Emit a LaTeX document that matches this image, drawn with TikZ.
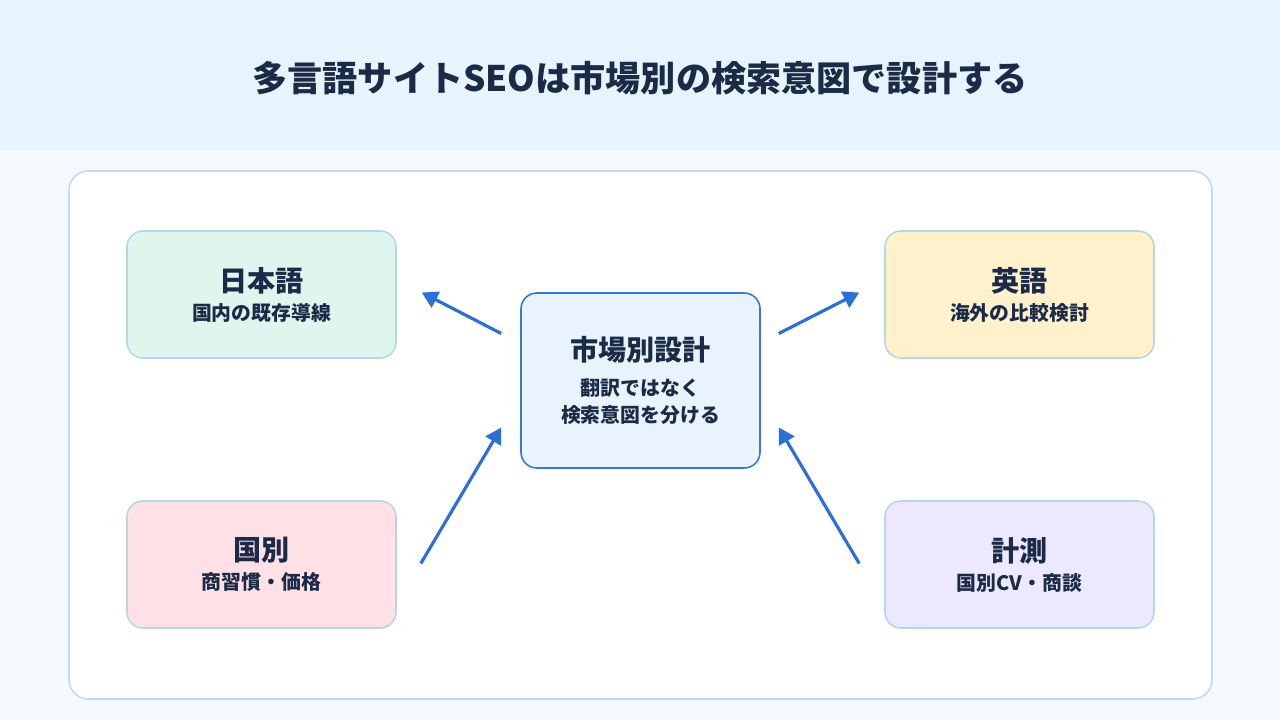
\documentclass[tikz,border=0pt]{standalone}
\usepackage{fontspec}
\setmainfont{Noto Sans CJK JP}
\usepackage{tikz}
\usetikzlibrary{arrows.meta, positioning, calc}

\definecolor{navy}{HTML}{1B2A47}
\definecolor{hdrbg}{HTML}{E8F4FD}
\definecolor{pagebg}{HTML}{F4F9FD}
\definecolor{panelline}{HTML}{BFDCEC}
\definecolor{boxline}{HTML}{B6D6EC}
\definecolor{arrowblue}{HTML}{2C6FD9}
\definecolor{hubline}{HTML}{3479D6}
\definecolor{hubfill}{HTML}{E9F3FD}
\definecolor{mintfill}{HTML}{DFF6EE}
\definecolor{creamfill}{HTML}{FFF1CC}
\definecolor{rosefill}{HTML}{FFE0E4}
\definecolor{lilacfill}{HTML}{ECE8FD}

\begin{document}
\begin{tikzpicture}[
    x=0.02cm, y=-0.02cm,
    font=\bfseries, text=navy,
    marketst/.style={draw=boxline, line width=0.9pt, rounded corners=9pt,
                     minimum width=269*0.02cm, minimum height=127*0.02cm,
                     align=center, inner sep=2pt},
    hubst/.style={draw=hubline, fill=hubfill, line width=0.9pt, rounded corners=9pt,
                  minimum width=239*0.02cm, minimum height=175*0.02cm,
                  align=center, inner sep=2pt},
    arr/.style={-{Triangle[length=9pt,width=10pt]}, draw=arrowblue, line width=1.8pt},
  ]
  \useasboundingbox (0,0) rectangle (1280,720);
  %% Background and header band
  \fill[pagebg] (0,0) rectangle (1280,720);
  \fill[hdrbg] (0,0) rectangle (1280,150);
  \node[font=\bfseries\fontsize{20}{24}\selectfont] (title) at (640,78)
    {多言語サイトSEOは市場別の検索意図で設計する};
  %% Panel
  \node[draw=panelline, fill=white, line width=0.9pt, rounded corners=11pt,
        minimum width=1143*0.02cm, minimum height=528*0.02cm] (panel) at (640.5,435) {};
  %% Hub
  \node[hubst] (hub) at (640.5,380.5) {{\fontsize{16}{19}\selectfont 市場別設計}\\[7.5pt]
    {\fontsize{11.3}{13}\selectfont 翻訳ではなく}\\[3.5pt]
    {\fontsize{11.3}{13}\selectfont 検索意図を分ける}};
  %% Markets
  \node[marketst, fill=mintfill] (jp) at (261.5,294.5) {{\fontsize{16}{19}\selectfont 日本語}\\[4.5pt]
    \fontsize{11.3}{13}\selectfont 国内の既存導線};
  \node[marketst, fill=creamfill] (en) at (1019.5,294.5) {{\fontsize{16}{19}\selectfont 英語}\\[4.5pt]
    \fontsize{11.3}{13}\selectfont 海外の比較検討};
  \node[marketst, fill=rosefill] (country) at (261.5,564.5) {{\fontsize{16}{19}\selectfont 国別}\\[4.5pt]
    \fontsize{11.3}{13}\selectfont 商習慣・価格};
  \node[marketst, fill=lilacfill] (measure) at (1019.5,564.5) {{\fontsize{16}{19}\selectfont 計測}\\[4.5pt]
    \fontsize{11.3}{13}\selectfont 国別CV・商談};
  %% Arrow ends
  \coordinate (hjp) at ($(hub.west)+(-19,-47)$);
  \coordinate (hen) at ($(hub.east)+(18,-47)$);
  \coordinate (hco) at ($(hub.west)+(-19,47)$);
  \coordinate (hme) at ($(hub.east)+(18,47)$);
  \coordinate (jpe) at ($(jp.east)+(25,-2)$);
  \coordinate (ene) at ($(en.west)+(-25,-2)$);
  \coordinate (coe) at ($(country.east)+(24,-1)$);
  \coordinate (mee) at ($(measure.west)+(-25,-1)$);
  %% Arrows
  \draw[arr] (hjp) -- (jpe);
  \draw[arr] (hen) -- (ene);
  \draw[arr] (coe) -- (hco);
  \draw[arr] (mee) -- (hme);
\end{tikzpicture}
\end{document}
